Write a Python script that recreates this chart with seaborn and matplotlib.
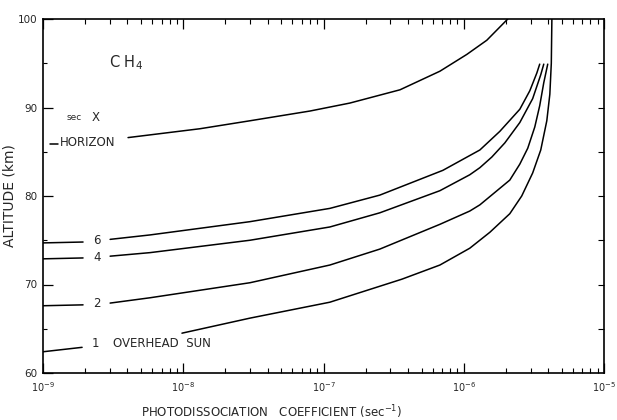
import pandas as pd
import matplotlib
matplotlib.use('Agg')
import matplotlib.pyplot as plt
import seaborn as sns

# photodissociation coefficient (sec^-1) vs altitude (km)
# the *_pre pieces are the bits left of the curve labels
horizon_pre_coef = [1.12e-9, 1.28e-9]
horizon_pre_alt = [85.9, 85.9]
horizon_coef = [4.04e-9, 1.315e-8, 2.99e-8, 8.0e-8, 1.54e-7, 3.51e-7, 6.76e-7, 1.052e-6, 1.46e-6, 2.06e-6]
horizon_alt = [86.6, 87.6, 88.5, 89.6, 90.5, 92.0, 94.1, 96.0, 97.6, 100.0]

sec6_pre_coef = [1.0e-9, 1.93e-9]
sec6_pre_alt = [74.7, 74.8]
sec6_coef = [3.01e-9, 5.79e-9, 2.99e-8, 1.11e-7, 2.52e-7, 7.10e-7, 1.303e-6, 1.807e-6, 2.51e-6, 2.96e-6, 3.32e-6, 3.48e-6]
sec6_alt = [75.1, 75.6, 77.1, 78.6, 80.1, 82.9, 85.2, 87.3, 89.8, 91.9, 93.9, 94.9]

sec4_pre_coef = [1.0e-9, 1.93e-9]
sec4_pre_alt = [72.9, 73.0]
sec4_coef = [3.01e-9, 5.79e-9, 2.99e-8, 1.11e-7, 2.52e-7, 6.76e-7, 1.104e-6, 1.303e-6, 1.585e-6, 1.963e-6, 2.51e-6, 3.10e-6, 3.54e-6, 3.72e-6]
sec4_alt = [73.2, 73.6, 75.0, 76.5, 78.1, 80.6, 82.4, 83.2, 84.4, 86.0, 88.3, 91.0, 93.7, 94.9]

sec2_pre_coef = [1.0e-9, 1.93e-9]
sec2_pre_alt = [67.6, 67.7]
sec2_coef = [3.01e-9, 5.79e-9, 2.99e-8, 1.11e-7, 2.52e-7, 6.76e-7, 1.104e-6, 1.303e-6, 2.13e-6, 2.51e-6, 2.86e-6, 3.21e-6, 3.48e-6, 3.72e-6, 3.97e-6]
sec2_alt = [67.9, 68.5, 70.2, 72.2, 74.0, 76.8, 78.3, 79.0, 81.8, 83.6, 85.4, 87.8, 90.2, 92.8, 94.9]

sec1_pre_coef = [1.0e-9, 1.90e-9]
sec1_pre_alt = [62.4, 62.9]
sec1_coef = [9.79e-9, 2.99e-8, 1.11e-7, 3.62e-7, 6.76e-7, 1.104e-6, 1.535e-6, 2.13e-6, 2.59e-6, 3.10e-6, 3.54e-6, 3.91e-6, 4.11e-6, 4.21e-6, 4.25e-6]
sec1_alt = [64.5, 66.2, 68.0, 70.6, 72.2, 74.1, 75.9, 78.0, 80.0, 82.6, 85.2, 88.5, 91.5, 95.0, 100.0]

segments = [
    ('horizon_pre', horizon_pre_coef, horizon_pre_alt),
    ('horizon', horizon_coef, horizon_alt),
    ('sec6_pre', sec6_pre_coef, sec6_pre_alt),
    ('sec6', sec6_coef, sec6_alt),
    ('sec4_pre', sec4_pre_coef, sec4_pre_alt),
    ('sec4', sec4_coef, sec4_alt),
    ('sec2_pre', sec2_pre_coef, sec2_pre_alt),
    ('sec2', sec2_coef, sec2_alt),
    ('sec1_pre', sec1_pre_coef, sec1_pre_alt),
    ('sec1', sec1_coef, sec1_alt),
]
frames = [pd.DataFrame({'coef': c, 'alt': a, 'segment': name}) for name, c, a in segments]
df = pd.concat(frames, ignore_index=True)

sns.set_style('ticks')
plt.rcParams['font.family'] = ['DejaVu Sans']

fig = plt.figure(figsize=(6.17, 4.20), dpi=100)
ax = fig.add_axes([43 / 617, 1 - 373 / 420, 561 / 617, 354 / 420])

sns.lineplot(data=df, x='coef', y='alt', units='segment', estimator=None,
             sort=False, color='black', linewidth=1.1, ax=ax)

ax.set_xscale('log')
ax.set_xlim(1e-9, 1e-5)
ax.set_ylim(60, 100)
ax.set_yticks([60, 70, 80, 90, 100])
ax.set_yticks([65, 75, 85, 95], minor=True)

for s in ax.spines.values():
    s.set_visible(True)
    s.set_linewidth(1.2)
    s.set_color('black')

ax.tick_params(axis='x', which='both', direction='in', top=True, bottom=True,
               labelsize=7, pad=5, color='black')
ax.tick_params(axis='x', which='major', length=7, width=0.9)
ax.tick_params(axis='x', which='minor', length=3.5, width=0.8)
ax.tick_params(axis='y', which='both', direction='in', left=True, right=False,
               labelsize=7.5, pad=4, color='black')
ax.tick_params(axis='y', which='major', length=7, width=0.9)
ax.tick_params(axis='y', which='minor', length=3, width=0.8)

right = ax.secondary_yaxis('right')
right.set_yticks([65, 70, 75, 80, 85, 90, 95])
right.set_yticklabels([])
right.tick_params(direction='in', length=4, width=0.8, color='black')
right.spines['right'].set_visible(False)

ax.set_xlabel('PHOTODISSOCIATION   COEFFICIENT (sec$^{-1}$)', fontsize=8.5)
ax.set_ylabel('ALTITUDE (km)', fontsize=10)
ax.xaxis.set_label_coords(0.408, -0.085)
ax.yaxis.set_label_coords(-0.048, 0.5)

# annotations
ax.text(3.9e-9, 95.1, 'C H$_4$', fontsize=10.5, ha='center', va='center')
ax.text(1.48e-9, 88.9, 'sec', fontsize=6.5, ha='left', va='center')
ax.text(2.39e-9, 88.9, 'X', fontsize=8.5, ha='center', va='center')
ax.text(1.32e-9, 86.1, 'HORIZON', fontsize=8.5, ha='left', va='center')
ax.text(2.43e-9, 75.0, '6', fontsize=8.5, ha='center', va='center')
ax.text(2.43e-9, 73.1, '4', fontsize=8.5, ha='center', va='center')
ax.text(2.43e-9, 67.8, '2', fontsize=8.5, ha='center', va='center')
ax.text(2.35e-9, 63.3, '1', fontsize=8.5, ha='center', va='center')
ax.text(3.16e-9, 63.3, 'OVERHEAD  SUN', fontsize=8.5, ha='left', va='center')

fig.savefig('out.png', dpi=100)
